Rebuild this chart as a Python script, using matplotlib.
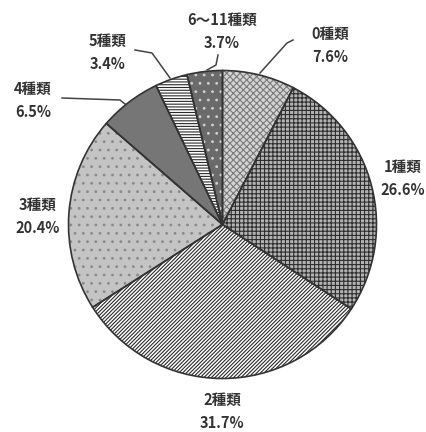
import matplotlib.pyplot as plt

plt.rcParams['font.family'] = ['Noto Sans CJK JP', 'DejaVu Sans']
plt.rcParams['hatch.linewidth'] = 0.8

# data (clockwise from 12 o'clock)
labels = ['0種類', '1種類', '2種類', '3種類', '4種類', '5種類', '6～11種類']
shares = [7.6, 26.6, 31.7, 20.4, 6.5, 3.4, 3.7]

faces = ['#d4d4d4', '#b4b4b4', '#ffffff', '#c4c4c4', '#767676', '#ffffff', '#6a6a6a']
hatch_cols = ['#7a7a7a', '#2e2e2e', '#2a2a2a', '#8a8a8a', '#5a5a5a', '#2a2a2a', '#d0d0d0']
hatches = ['xxxxx', '++++', '/////////', '..', '', '------', '..']

W, H = 426, 432
fig = plt.figure(figsize=(W / 100, H / 100), dpi=100)
ax = fig.add_axes([0, 0, 1, 1])

cx, cy, r = 222.5, H - 224.5, 154

# filled + hatched wedges
wedges, _ = ax.pie(shares, startangle=90, counterclock=False,
                   center=(cx, cy), radius=r, frame=True)
for w, fc, hc, h in zip(wedges, faces, hatch_cols, hatches):
    w.set_facecolor(fc)
    w.set_edgecolor(hc)
    w.set_linewidth(0)
    w.set_hatch(h)

# outlines
ax.pie(shares, startangle=90, counterclock=False,
       center=(cx, cy), radius=r, frame=True,
       wedgeprops=dict(fill=False, edgecolor='#333333', linewidth=1.2))
ax.set_xlim(0, W)
ax.set_ylim(0, H)
ax.set_aspect('equal')
ax.axis('off')

# label placement (pixel coords from top-left)
label_pos = [(330, 45), (403, 178), (222, 411), (38, 216), (33, 100), (108, 52), (222, 31)]
for lab, val, (x, y) in zip(labels, shares, label_pos):
    ax.text(x, H - y, f'{lab}\n{val:.1f}%', ha='center', va='center',
            fontsize=10.5, fontweight='bold', color='#333333', linespacing=1.55)

# leader lines
leaders = [
    [(293, 40), (287, 43), (260, 73)],
    [(218, 55), (216, 65), (207, 70)],
    [(135, 50), (152, 53), (170, 78)],
    [(62, 98), (120, 100), (125, 104)],
]
for pts in leaders:
    xs = [p[0] for p in pts]
    ys = [H - p[1] for p in pts]
    ax.plot(xs, ys, color='#444444', lw=1.1)

fig.savefig('out.png', dpi=100, facecolor='white')
